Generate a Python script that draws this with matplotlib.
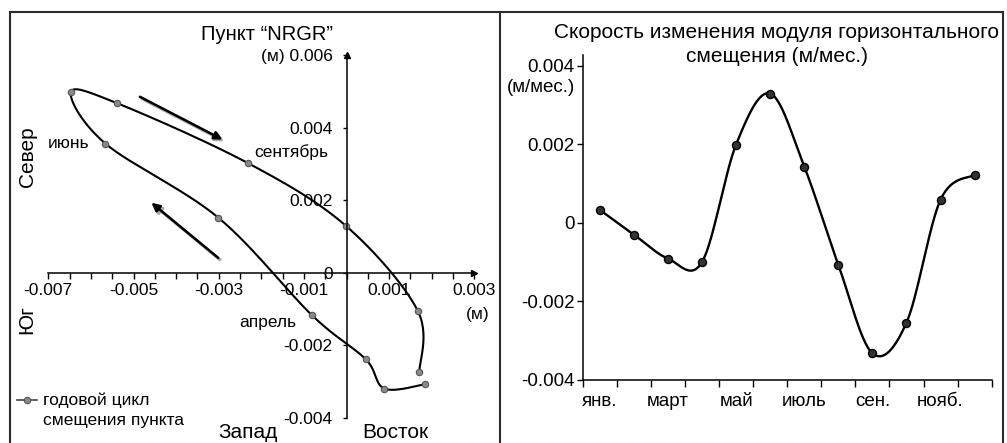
import matplotlib
matplotlib.use("Agg")
import matplotlib.pyplot as plt
import numpy as np
from matplotlib.lines import Line2D
from matplotlib.ticker import FixedLocator, MultipleLocator

plt.rcParams['font.family'] = ['Liberation Sans', 'DejaVu Sans']

# годовой цикл смещения пункта NRGR (м), янв..дек
east = [0.00185, 0.00089, 0.00045, -0.00081, -0.00301, -0.00566,
        -0.00647, -0.00538, -0.00231, -0.00002, 0.00167, 0.00171]
north = [-0.00307, -0.00319, -0.00238, -0.00117, 0.00152, 0.00356,
         0.00498, 0.00467, 0.00302, 0.00130, -0.00104, -0.00273]

# скорость изменения модуля горизонтального смещения (м/мес.)
months = ['янв.', 'фев.', 'март', 'апр.', 'май', 'июнь',
          'июль', 'авг.', 'сен.', 'окт.', 'нояб.', 'дек.']
speed = [0.00033, -0.00030, -0.00091, -0.00100, 0.00199, 0.00329,
         0.00143, -0.00107, -0.00332, -0.00254, 0.00059, 0.00122]

W, H = 1007, 443


def fx(x):
    return x / W


def fy(y):
    return 1 - y / H


# Excel-like smoothed line (cubic bezier through the points)
def smooth(x, y, n=30):
    p = np.column_stack([x, y])
    p = np.vstack([p[0], p, p[-1]])
    t = np.linspace(0, 1, n, endpoint=False)[:, None]
    out = []
    for i in range(1, len(p) - 2):
        p0, p1, p2, p3 = p[i - 1], p[i], p[i + 1], p[i + 2]
        c1 = p1 + (p2 - p0) / 6
        c2 = p2 - (p3 - p1) / 6
        out.append((1 - t) ** 3 * p1 + 3 * (1 - t) ** 2 * t * c1
                   + 3 * (1 - t) * t ** 2 * c2 + t ** 3 * p2)
    out.append(p[-2][None])
    out = np.vstack(out)
    return out[:, 0], out[:, 1]


fig = plt.figure(figsize=(W / 100, H / 100), dpi=100)

# ---------------- left panel ----------------
ax1 = fig.add_axes([fx(48.3), fy(418), (474.3 - 48.3) / W, (418 - 55) / H])
ax1.set_xlim(-0.007, 0.003)
ax1.set_ylim(-0.004, 0.006)
for s in ['top', 'right']:
    ax1.spines[s].set_visible(False)
ax1.spines['left'].set_position(('data', 0))
ax1.spines['bottom'].set_position(('data', 0))
for s in ['left', 'bottom']:
    ax1.spines[s].set_linewidth(1.1)
ax1.plot(1, 0, '>k', ms=4, transform=ax1.get_yaxis_transform(), clip_on=False)
ax1.plot(0, 1, '^k', ms=4, transform=ax1.get_xaxis_transform(), clip_on=False)

ax1.xaxis.set_major_locator(FixedLocator([-0.007, -0.005, -0.003, -0.001, 0.001, 0.003]))
ax1.xaxis.set_minor_locator(MultipleLocator(0.0005))
ax1.set_xticklabels(['-0.007', '-0.005', '-0.003', '-0.001', '0.001', '0.003'])
ax1.set_yticks([-0.004, -0.002, 0, 0.002, 0.004, 0.006])
ax1.set_yticklabels(['-0.004', '-0.002', '0', '0.002', '0.004', '(м) 0.006'])
ax1.tick_params(axis='x', which='both', direction='out', length=4, width=1, labelsize=12.5, pad=3)
ax1.tick_params(axis='y', direction='out', length=3, width=1, labelsize=12.5, pad=7)

sx, sy = smooth(east, north)
ax1.plot(sx, sy, color='black', lw=1.5)
ax1.plot(east, north, 'o', color='#8a8a8a', mec='#555555', mew=0.8, ms=4.6)

# direction arrows (with a soft shadow)
for (x0, y0, x1, y1) in [(-0.00481, 0.00480, -0.00287, 0.00362),
                         (-0.00297, 0.00036, -0.00454, 0.00188)]:
    ax1.annotate('', xy=(x1, y1), xytext=(x0, y0),
                 arrowprops=dict(arrowstyle='-|>', color='#aaaaaa', lw=2.2,
                                 mutation_scale=12, shrinkA=0, shrinkB=0))
    ax1.annotate('', xy=(x1 - 0.00004, y1 + 0.00005), xytext=(x0 - 0.00004, y0 + 0.00005),
                 arrowprops=dict(arrowstyle='-|>', color='black', lw=1.8,
                                 mutation_scale=12, shrinkA=0, shrinkB=0))

fig.text(fx(267), fy(35), 'Пункт “NRGR”', ha='center', va='center', fontsize=14.5)
fig.text(fx(291), fy(152), 'сентябрь', ha='center', va='center', fontsize=12.5)
fig.text(fx(69), fy(144), 'июнь', ha='center', va='center', fontsize=12.5)
fig.text(fx(268), fy(323), 'апрель', ha='center', va='center', fontsize=12.5)
fig.text(fx(27), fy(157), 'Север', ha='center', va='center', rotation=90, fontsize=15)
fig.text(fx(27), fy(320), 'Юг', ha='center', va='center', rotation=90, fontsize=15)
fig.text(fx(248), fy(433), 'Запад', ha='center', va='center', fontsize=15)
fig.text(fx(395), fy(433), 'Восток', ha='center', va='center', fontsize=15)
fig.text(fx(478), fy(315), '(м)', ha='center', va='center', fontsize=12.5)

# legend
fig.add_artist(Line2D([fx(17), fx(37)], [fy(400), fy(400)], color='#444444', lw=1.2))
fig.add_artist(Line2D([fx(27)], [fy(400)], marker='o', color='#8a8a8a',
                      mec='#555555', mew=0.8, ms=4.6))
fig.text(fx(43), fy(400), 'годовой цикл', ha='left', va='center', fontsize=12.5)
fig.text(fx(43), fy(420), 'смещения пункта', ha='left', va='center', fontsize=12.5)

# ---------------- right panel ----------------
ax2 = fig.add_axes([fx(582.7), fy(380), (991.7 - 582.7) / W, (380 - 55) / H])
idx = np.arange(len(months))
ax2.set_xlim(-0.5, len(months) - 0.5)
ax2.set_ylim(-0.004, 0.00427)
for s in ['top', 'right']:
    ax2.spines[s].set_visible(False)
for s in ['left', 'bottom']:
    ax2.spines[s].set_linewidth(1.1)
ax2.set_yticks([-0.004, -0.002, 0, 0.002, 0.004])
ax2.set_yticklabels(['-0.004', '-0.002', '0', '0.002', '0.004'])
ax2.set_xticks(idx)
ax2.set_xticklabels([m if i % 2 == 0 else '' for i, m in enumerate(months)])
ax2.xaxis.set_minor_locator(FixedLocator(np.arange(-0.5, len(months), 1)))
ax2.tick_params(axis='x', which='major', length=0, labelsize=13.5, pad=9)
ax2.tick_params(axis='x', which='minor', length=5, width=1, direction='out')
ax2.tick_params(axis='y', length=4, width=1, labelsize=13.5, pad=2)

rx, ry = smooth(idx, speed)
ax2.plot(rx, ry, color='black', lw=1.7)
ax2.plot(idx, speed, 'o', color='#333333', mec='black', mew=1, ms=5.8)

fig.text(fx(777), fy(32), 'Скорость изменения модуля горизонтального',
         ha='center', va='center', fontsize=15)
fig.text(fx(777), fy(57), 'смещения (м/мес.)', ha='center', va='center', fontsize=15)
fig.text(fx(541), fy(88), '(м/мес.)', ha='center', va='center', fontsize=13.5)

# panel frames
fc = '#2b2b2b'
for (x0, y0, x1, y1) in [(9.5, 11.5, 1003, 11.5), (9.5, 11.5, 9.5, 443),
                         (499.5, 11.5, 499.5, 443), (1003, 11.5, 1003, 443)]:
    fig.add_artist(Line2D([fx(x0), fx(x1)], [fy(y0), fy(y1)], color=fc, lw=1.5))

fig.savefig('out.png', dpi=100)
